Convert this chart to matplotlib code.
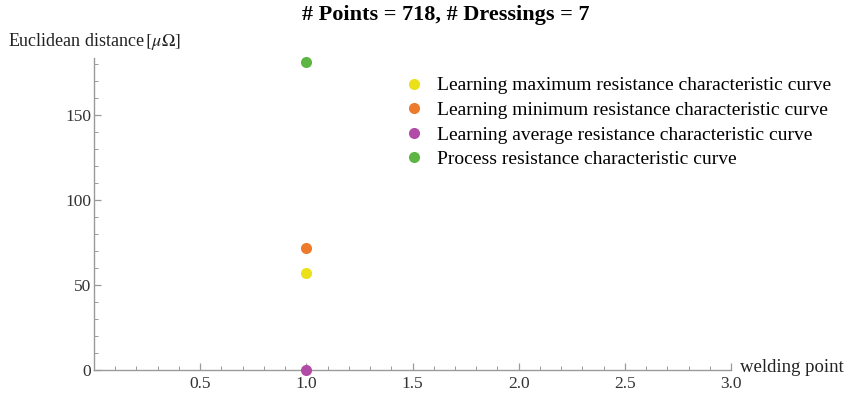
import matplotlib.pyplot as plt
from matplotlib.ticker import MultipleLocator

# Euclidean distance of each characteristic curve at the welding point
labels = [
    'Learning maximum resistance characteristic curve',
    'Learning minimum resistance characteristic curve',
    'Learning average resistance characteristic curve',
    'Process resistance characteristic curve',
]
welding_point = [1.0, 1.0, 1.0, 1.0]
distance = [57.0, 72.0, 0.0, 181.0]
colors = ['#ECE019', '#EE7A2C', '#B24BA6', '#5DB643']

x_ticks = [0.5, 1.0, 1.5, 2.0, 2.5, 3.0]
y_ticks = [0, 50, 100, 150]

plt.rcParams['font.family'] = ['Liberation Serif', 'DejaVu Serif']
plt.rcParams['mathtext.fontset'] = 'stix'

fig = plt.figure(figsize=(8.55, 3.95), dpi=100)
ax = fig.add_axes([94 / 855, 25 / 395, 637 / 855, 312 / 395])

for x, y, c, lab in zip(welding_point, distance, colors, labels):
    ax.plot(x, y, 'o', color=c, markersize=8, markeredgewidth=0,
            label=lab, clip_on=False, zorder=3)

ax.set_xlim(0, 3.0)
ax.set_ylim(0, 183.5)

# Mathematica-like axes through the origin
axis_color = '#9a9a9a'
for side in ['top', 'right']:
    ax.spines[side].set_visible(False)
for side in ['left', 'bottom']:
    ax.spines[side].set_color(axis_color)
    ax.spines[side].set_linewidth(1.0)

ax.set_xticks(x_ticks)
ax.set_xticklabels([f'{t:.1f}' for t in x_ticks])
ax.set_yticks(y_ticks)
ax.xaxis.set_minor_locator(MultipleLocator(0.1))
ax.yaxis.set_minor_locator(MultipleLocator(10))
ax.tick_params(which='both', direction='in', color=axis_color,
               labelsize=12.5, labelcolor='#333333')
ax.tick_params(which='major', length=5, width=0.9)
ax.tick_params(which='minor', length=3, width=0.7)
ax.tick_params(axis='x', pad=4)
ax.tick_params(axis='y', pad=2)

fig.text(446 / 855, 0.962, '# Points = 718, # Dressings = 7',
         ha='center', va='center', fontsize=16, fontweight='bold')
fig.text(8 / 855, 1 - 42 / 395, r'Euclidean distance$\,[\mu\Omega]$',
         ha='left', va='center', fontsize=13, color='#222222')
fig.text(740 / 855, 1 - 368 / 395, 'welding point',
         ha='left', va='center', fontsize=13.5, color='#222222')

leg = ax.legend(loc='upper left', bbox_to_anchor=(395 / 855, 1 - 69 / 395),
                bbox_transform=fig.transFigure, frameon=False,
                fontsize=14, handletextpad=0.55, labelspacing=0.36,
                handlelength=1.2, borderaxespad=0)

fig.savefig('out.png', dpi=100)
